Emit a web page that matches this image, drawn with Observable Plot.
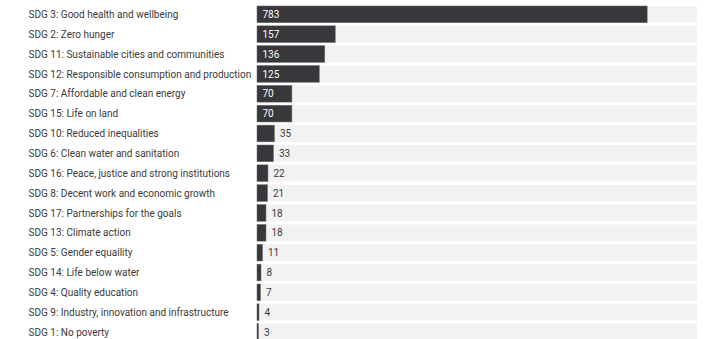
<!DOCTYPE html>
<html>
<head>
<meta charset="utf-8">
<script src="https://cdn.jsdelivr.net/npm/d3@7"></script>
<script src="https://cdn.jsdelivr.net/npm/@observablehq/plot@0.6"></script>
<style>
  html, body { margin: 0; padding: 0; background: #fff; overflow: hidden; }
  #chart { width: 705px; height: 339px; overflow: hidden; }
</style>
</head>
<body>
<div id="chart"></div>
<script>
const goals = [
  "SDG 3: Good health and wellbeing",
  "SDG 2: Zero hunger",
  "SDG 11: Sustainable cities and communities",
  "SDG 12: Responsible consumption and production",
  "SDG 7: Affordable and clean energy",
  "SDG 15: Life on land",
  "SDG 10: Reduced inequalities",
  "SDG 6: Clean water and sanitation",
  "SDG 16: Peace, justice and strong institutions",
  "SDG 8: Decent work and economic growth",
  "SDG 17: Partnerships for the goals",
  "SDG 13: Climate action",
  "SDG 5: Gender equaility",
  "SDG 14: Life below water",
  "SDG 4: Quality education",
  "SDG 9: Industry, innovation and infrastructure",
  "SDG 1: No poverty"
];
const counts = [783, 157, 136, 125, 70, 70, 35, 33, 22, 21, 18, 18, 11, 8, 7, 4, 3];
const xMax = 883;
const insideThreshold = 60;

const data = goals.map((g, i) => ({goal: g, count: counts[i]}));

const chart = Plot.plot({
  width: 705,
  height: 342,
  marginLeft: 257,
  marginRight: 8,
  marginTop: 4.4,
  marginBottom: 0,
  style: {fontFamily: "Roboto, sans-serif", fontSize: "10px", color: "#333"},
  x: {domain: [0, xMax], axis: null},
  y: {domain: goals, paddingInner: 0.16, paddingOuter: 0.08, round: false, label: null},
  marks: [
    Plot.barX(data, {y: "goal", x1: 0, x2: () => xMax, fill: "#f2f2f2"}),
    Plot.barX(data, {y: "goal", x: "count", fill: "#38373b", stroke: "#6a696d", strokeWidth: 0.5}),
    Plot.axisY({tickSize: 0, tickPadding: 0, textAnchor: "start", dx: -229, fill: "#3a3a3a", fontSize: 10}),
    Plot.text(data.filter(d => d.count >= insideThreshold), {y: "goal", x: 0, text: d => String(d.count), textAnchor: "start", dx: 5, fill: "white", fontSize: 10}),
    Plot.text(data.filter(d => d.count < insideThreshold), {y: "goal", x: "count", text: d => String(d.count), textAnchor: "start", dx: 5, fill: "#3a3a3a", fontSize: 10})
  ]
});
document.getElementById("chart").appendChild(chart);
</script>
</body>
</html>
